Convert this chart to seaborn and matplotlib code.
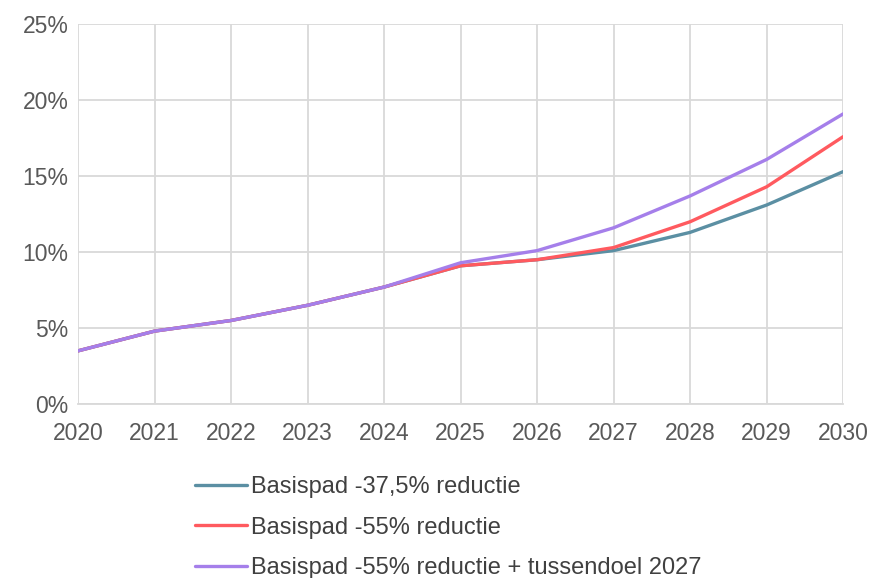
import matplotlib
matplotlib.use("Agg")
import matplotlib.pyplot as plt
import seaborn as sns
import pandas as pd
from matplotlib.ticker import FuncFormatter

years = [2020, 2021, 2022, 2023, 2024, 2025, 2026, 2027, 2028, 2029, 2030]
basis_375 = [3.5, 4.8, 5.5, 6.5, 7.7, 9.1, 9.5, 10.1, 11.3, 13.1, 15.3]
basis_55 = [3.5, 4.8, 5.5, 6.5, 7.7, 9.1, 9.5, 10.3, 12.0, 14.3, 17.6]
basis_55_tussen = [3.5, 4.8, 5.5, 6.5, 7.7, 9.3, 10.1, 11.6, 13.7, 16.1, 19.1]
labels = ["Basispad -37,5% reductie", "Basispad -55% reductie",
          "Basispad -55% reductie + tussendoel 2027"]
colors = ["#5B8FA3", "#FF5A5F", "#A57FEA"]

sns.set_theme(style="white")
plt.rcParams['font.family'] = ['Liberation Sans', 'DejaVu Sans']

df = pd.DataFrame({
    "jaar": years * 3,
    "waarde": basis_375 + basis_55 + basis_55_tussen,
    "scenario": [labels[0]] * len(years) + [labels[1]] * len(years) + [labels[2]] * len(years),
})

fig = plt.figure(figsize=(8.71, 5.78), dpi=100)
ax = fig.add_axes([0.0896, 0.301, 0.8784, 0.657])
sns.lineplot(data=df, x="jaar", y="waarde", hue="scenario", palette=colors,
             linewidth=2.4, ax=ax, legend=True)

ax.set_xlim(2020, 2030)
ax.set_ylim(0, 25)
ax.set_xticks(years)
ax.set_yticks([0, 5, 10, 15, 20, 25])
ax.yaxis.set_major_formatter(FuncFormatter(lambda v, p: f"{int(v)}%"))
ax.grid(True, color="#D9D9D9", linewidth=1.3)
ax.set_axisbelow(True)
for s in ["top", "right", "left"]:
    ax.spines[s].set_visible(False)
ax.spines["bottom"].set_color("#D9D9D9")
ax.spines["bottom"].set_linewidth(1.3)
ax.tick_params(axis="both", labelsize=16.5, colors="#595959", length=0)
ax.tick_params(axis="x", pad=13)
ax.tick_params(axis="y", pad=7)
ax.set_xlabel("")
ax.set_ylabel("")

handles, labs = ax.get_legend_handles_labels()
ax.legend(handles, labs, loc="upper left", bbox_to_anchor=(0.153, -0.19),
          frameon=False, fontsize=17, handlelength=2.2, handletextpad=0.15,
          labelspacing=0.78, labelcolor="#404040", borderaxespad=0,
          borderpad=0)

fig.savefig("out.png", dpi=100, facecolor="white")
